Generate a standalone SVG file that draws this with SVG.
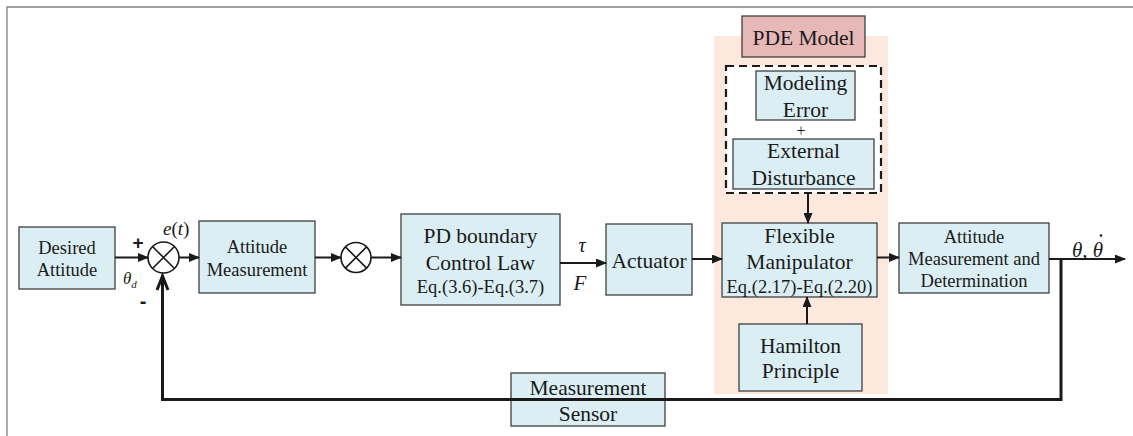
<svg xmlns="http://www.w3.org/2000/svg" width="1133" height="436" viewBox="0 0 1133 436">
<style>
.box{fill:#daeef3;stroke:#404040;stroke-width:1.3}
text{font-family:'Liberation Serif','Times New Roman',Times,serif}
.t{fill:#1a1a1a;text-anchor:middle}
.m{font-style:italic;fill:#1a1a1a}
.c{fill:none;stroke:#1a1a1a;stroke-width:2}
.fb{fill:none;stroke:#1a1a1a;stroke-width:3}
.sum{fill:#fff;stroke:#1a1a1a;stroke-width:1.6}
</style>
<defs>
<marker id="ah" markerUnits="userSpaceOnUse" markerWidth="11" markerHeight="9" refX="10" refY="4.5" orient="auto">
<path d="M0,0 L11,4.5 L0,9 z" fill="#1a1a1a"/>
</marker>
</defs>
<rect width="1133" height="436" fill="#fff"/>
<path d="M7,436 V7 H1133" fill="none" stroke="#808080" stroke-width="1.3"/>

<g id="pde-region">
<rect x="714" y="36" width="174" height="358" fill="#fce8dc"/>
</g>
<g id="pde-model">
<rect x="742" y="16" width="123" height="41" fill="#e6b9b8" stroke="#404040" stroke-width="1.3"/>
<text class="t" x="803.5" y="45" font-size="21.5">PDE Model</text>
</g>
<g id="uncertainty">
<rect x="726" y="66" width="155" height="127" fill="#fff" stroke="#1a1a1a" stroke-width="2.2" stroke-dasharray="8,5"/>
<text class="t" x="801" y="136" font-size="16">+</text>
</g>
<g id="modeling-error">
<rect class="box" x="756" y="71" width="99" height="49"/>
<text class="t" x="805.5" y="90" font-size="21.5">Modeling</text>
<text class="t" x="805.5" y="116.5" font-size="21.5">Error</text>
</g>
<g id="external-disturbance">
<rect class="box" x="733" y="139" width="141" height="50"/>
<text class="t" x="803.5" y="158" font-size="21.5">External</text>
<text class="t" x="803.5" y="185" font-size="21.5">Disturbance</text>
</g>
<g id="desired-attitude">
<rect class="box" x="19" y="227" width="96" height="62"/>
<text class="t" x="67" y="254" font-size="18.5">Desired</text>
<text class="t" x="67" y="276" font-size="18.5">Attitude</text>
</g>
<g id="sum1">
<circle class="sum" cx="163.5" cy="257.5" r="15.5"/>
<path d="M152.5,246.5 L174.5,268.5 M174.5,246.5 L152.5,268.5" stroke="#1a1a1a" stroke-width="1.6"/>
<text x="138" y="249" style="font-family:'Liberation Sans',Arial,sans-serif" font-weight="bold" font-size="19" text-anchor="middle" fill="#1a1a1a">+</text>
<text x="143" y="308" style="font-family:'Liberation Sans',Arial,sans-serif" font-weight="bold" font-size="20" text-anchor="middle" fill="#1a1a1a">-</text>
<text class="m" x="163" y="235" font-size="19">e<tspan font-style="normal">(</tspan>t<tspan font-style="normal">)</tspan></text>
<text class="m" x="123" y="284" font-size="17">θ<tspan font-size="11" dy="4">d</tspan></text>
</g>
<g id="attitude-measurement">
<rect class="box" x="199" y="221" width="116" height="72"/>
<text class="t" x="257" y="253" font-size="18.5">Attitude</text>
<text class="t" x="257" y="276" font-size="18.5">Measurement</text>
</g>
<g id="sum2">
<circle class="sum" cx="356" cy="257.5" r="15"/>
<path d="M345.4,246.9 L366.6,268.1 M366.6,246.9 L345.4,268.1" stroke="#1a1a1a" stroke-width="1.6"/>
</g>
<g id="pd-control">
<rect class="box" x="401" y="214" width="159" height="91"/>
<text class="t" x="480.5" y="243" font-size="21.5">PD boundary</text>
<text class="t" x="480.5" y="270" font-size="21.5">Control Law</text>
<text class="t" x="480.5" y="293" font-size="18.5">Eq.(3.6)-Eq.(3.7)</text>
</g>
<g id="tau-f">
<text class="m" x="582" y="252" font-size="20" text-anchor="middle">τ</text>
<text class="m" x="580" y="290" font-size="21" text-anchor="middle">F</text>
</g>
<g id="actuator">
<rect class="box" x="606" y="224" width="86" height="71"/>
<text class="t" x="649" y="268" font-size="21.5">Actuator</text>
</g>
<g id="flexible-manipulator">
<rect class="box" x="722" y="223" width="155" height="74"/>
<text class="t" x="799.5" y="243" font-size="21.5">Flexible</text>
<text class="t" x="799.5" y="269" font-size="21.5">Manipulator</text>
<text class="t" x="799.5" y="293" font-size="18.5">Eq.(2.17)-Eq.(2.20)</text>
</g>
<g id="hamilton">
<rect class="box" x="739" y="324" width="123" height="67"/>
<text class="t" x="800.5" y="352.5" font-size="21.5">Hamilton</text>
<text class="t" x="800.5" y="378" font-size="21.5">Principle</text>
</g>
<g id="attitude-determination">
<rect class="box" x="899" y="223" width="150" height="70"/>
<text class="t" x="974" y="243" font-size="18.5">Attitude</text>
<text class="t" x="974" y="265" font-size="18.5">Measurement and</text>
<text class="t" x="974" y="287" font-size="18.5">Determination</text>
</g>
<g id="output-label">
<text class="m" x="1072" y="257" font-size="21">θ, θ</text>
<circle cx="1101" cy="235.5" r="1.3" fill="#1a1a1a"/>
</g>
<g id="measurement-sensor">
<rect class="box" x="511" y="373" width="154" height="53"/>
<text class="t" x="588" y="395" font-size="21.5">Measurement</text>
<text class="t" x="588" y="421" font-size="21.5">Sensor</text>
</g>

<g id="connectors">
<path class="c" d="M115,257.5 H148" marker-end="url(#ah)"/>
<path class="c" d="M179,257.5 H199" marker-end="url(#ah)"/>
<path class="c" d="M315,257.5 H341" marker-end="url(#ah)"/>
<path class="c" d="M371,257.5 H401" marker-end="url(#ah)"/>
<path class="c" d="M560,263 H606" marker-end="url(#ah)"/>
<path class="c" d="M692,259 H722" marker-end="url(#ah)"/>
<path class="c" d="M808,193 V223" marker-end="url(#ah)"/>
<path class="c" d="M807,324 V297" marker-end="url(#ah)"/>
<path class="c" d="M877,257.5 H899" marker-end="url(#ah)"/>
<path class="c" d="M1049,259 H1125" marker-end="url(#ah)"/>
<path class="fb" d="M1061,259 V399.5 H162.5 V275"/>
<path d="M157,290 L162.5,276 L168,290" fill="none" stroke="#1a1a1a" stroke-width="3"/>
</g>
</svg>
